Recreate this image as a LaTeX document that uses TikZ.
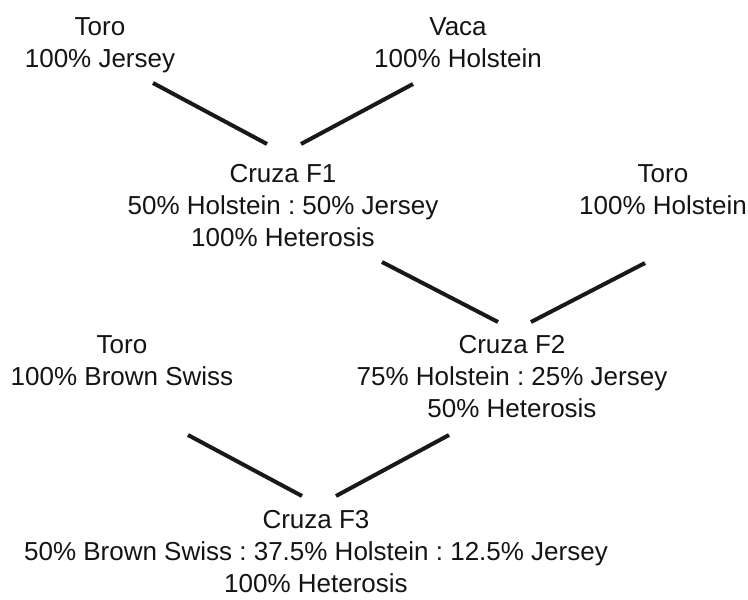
\documentclass[tikz,border=0pt]{standalone}
\usepackage{fontspec}
\setmainfont{Liberation Sans}
\usetikzlibrary{calc}
\frenchspacing
\begin{document}
\begin{tikzpicture}[x=1pt,y=-1pt,
  label/.style={align=center,anchor=north,inner sep=0pt,text=black!92,
    font=\fontsize{26}{32}\selectfont\frenchspacing},
  link/.style={line width=4pt,black!90}]
\useasboundingbox[fill=white] (0,0) rectangle (748,600);
\node[label] (toro1) at (100,12.6) {\strut Toro\\100\% Jersey};
\node[label] (vaca)  at (458,12.6) {\strut Vaca\\100\% Holstein};
\node[label] (f1)    at (283,159.6) {\strut Cruza F1\\50\% Holstein : 50\% Jersey\\100\% Heterosis};
\node[label] (toro2) at (663,159.6) {\strut Toro\\100\% Holstein};
\node[label] (f2)    at (512,330.6) {\strut Cruza F2\\75\% Holstein : 25\% Jersey\\50\% Heterosis};
\node[label] (toro3) at (122,330.6) {\strut Toro\\100\% Brown Swiss};
\node[label] (f3)    at (316,505.6) {\strut Cruza F3\\50\% Brown Swiss : 37.5\% Holstein : 12.5\% Jersey\\100\% Heterosis};
\draw[link] ($(toro1.north)+(53,70.4)$) -- ($(f1.north)+(-16,-15.6)$);
\draw[link] ($(vaca.north)+(-45,71.4)$) -- ($(f1.north)+(18,-15.6)$);
\draw[link] ($(f1.north)+(99,102.4)$) -- ($(f2.north)+(-14,-8.6)$);
\draw[link] ($(toro2.north)+(-18,103.4)$) -- ($(f2.north)+(19,-8.6)$);
\draw[link] ($(toro3.north)+(66,104.4)$) -- ($(f3.north)+(-14,-9.6)$);
\draw[link] ($(f2.north)+(-63,104.4)$) -- ($(f3.north)+(20,-9.6)$);
\end{tikzpicture}
\end{document}
